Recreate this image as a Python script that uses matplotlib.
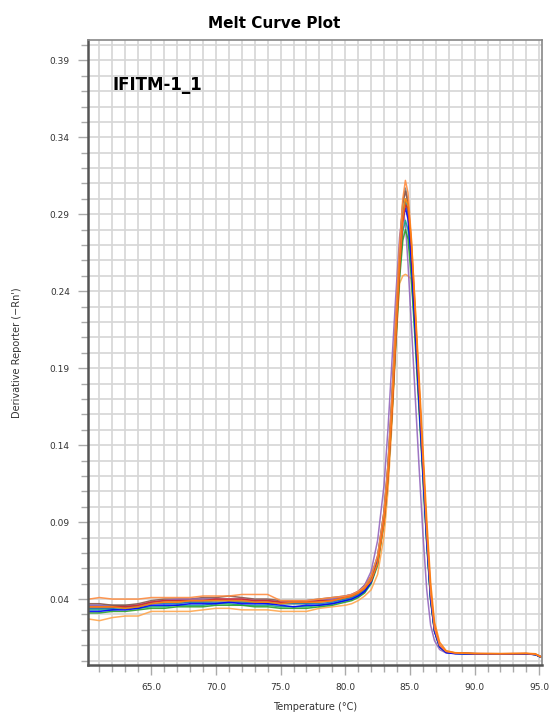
import numpy as np
import matplotlib.pyplot as plt
from matplotlib.ticker import MultipleLocator, FixedLocator

# Temperature grid for the flat part (60-80 C) and the melt part (80.5-95 C)
base_temps = [60.2, 61, 62, 63, 64, 65, 66, 67, 68, 69, 70,
              71, 72, 73, 74, 75, 76, 77, 78, 79, 80]
melt_temps = [80.5, 81, 81.5, 82, 82.5, 83, 83.3, 83.6, 83.9, 84.2, 84.45,
              84.65, 84.85, 85.1, 85.4, 85.7, 86.0, 86.3, 86.6, 86.9, 87.3,
              87.8, 88.5, 90, 92, 94, 94.7, 95.1]

# baseline readings (one list per well)
base_orange_top = [0.040, 0.041, 0.040, 0.040, 0.040, 0.041, 0.041, 0.041, 0.041, 0.042, 0.042,
                   0.042, 0.043, 0.043, 0.043, 0.039, 0.039, 0.039, 0.040, 0.041, 0.042]
base_orange_low = [0.027, 0.026, 0.028, 0.029, 0.029, 0.032, 0.032, 0.032, 0.032, 0.033, 0.034,
                   0.034, 0.033, 0.033, 0.033, 0.032, 0.032, 0.032, 0.034, 0.035, 0.036]
base_blue = [0.032, 0.032, 0.033, 0.033, 0.034, 0.036, 0.036, 0.036, 0.037, 0.037, 0.037,
             0.038, 0.037, 0.037, 0.037, 0.036, 0.035, 0.036, 0.036, 0.037, 0.039]
base_steel = [0.034, 0.034, 0.034, 0.035, 0.035, 0.037, 0.037, 0.037, 0.038, 0.038, 0.038,
              0.038, 0.038, 0.038, 0.037, 0.037, 0.037, 0.037, 0.037, 0.038, 0.040]
base_green = [0.031, 0.031, 0.032, 0.032, 0.033, 0.034, 0.034, 0.035, 0.035, 0.035, 0.036,
              0.036, 0.036, 0.035, 0.035, 0.034, 0.034, 0.034, 0.035, 0.036, 0.038]
base_teal = [0.033, 0.033, 0.033, 0.034, 0.034, 0.035, 0.035, 0.036, 0.036, 0.036, 0.037,
             0.037, 0.036, 0.036, 0.036, 0.035, 0.035, 0.035, 0.036, 0.037, 0.039]
base_red = [0.035, 0.035, 0.035, 0.035, 0.036, 0.038, 0.039, 0.039, 0.039, 0.039, 0.040,
            0.040, 0.040, 0.039, 0.039, 0.038, 0.038, 0.038, 0.039, 0.039, 0.041]
base_purple = [0.036, 0.036, 0.035, 0.035, 0.036, 0.038, 0.039, 0.040, 0.040, 0.040, 0.040,
               0.040, 0.040, 0.039, 0.039, 0.038, 0.038, 0.039, 0.039, 0.040, 0.042]
base_brown = [0.037, 0.037, 0.036, 0.036, 0.037, 0.039, 0.040, 0.040, 0.040, 0.041, 0.041,
              0.042, 0.041, 0.040, 0.040, 0.039, 0.039, 0.039, 0.040, 0.041, 0.042]
base_grey = [0.036, 0.036, 0.036, 0.036, 0.036, 0.038, 0.039, 0.039, 0.039, 0.040, 0.040,
             0.039, 0.039, 0.039, 0.039, 0.038, 0.038, 0.038, 0.039, 0.040, 0.041]
base_olive = [0.034, 0.034, 0.034, 0.035, 0.035, 0.037, 0.038, 0.038, 0.038, 0.038, 0.039,
              0.039, 0.038, 0.038, 0.038, 0.037, 0.037, 0.037, 0.038, 0.039, 0.040]
base_orange = [0.035, 0.035, 0.035, 0.034, 0.035, 0.037, 0.038, 0.038, 0.039, 0.039, 0.039,
               0.039, 0.039, 0.038, 0.038, 0.037, 0.038, 0.038, 0.038, 0.039, 0.041]

# melt readings (one list per well)
melt_orange_top = [0.043, 0.045, 0.048, 0.055, 0.068, 0.097, 0.127, 0.170, 0.222, 0.270, 0.300,
                   0.312, 0.304, 0.276, 0.230, 0.180, 0.132, 0.084, 0.044, 0.021, 0.010,
                   0.006, 0.005, 0.0046, 0.0045, 0.0047, 0.0042, 0.0026]
melt_orange_low = [0.037, 0.039, 0.042, 0.046, 0.056, 0.081, 0.110, 0.152, 0.203, 0.245, 0.250,
                   0.251, 0.250, 0.248, 0.218, 0.172, 0.126, 0.080, 0.042, 0.020, 0.009,
                   0.0055, 0.0048, 0.0045, 0.0044, 0.0045, 0.0040, 0.0025]
melt_blue = [0.040, 0.042, 0.045, 0.051, 0.064, 0.093, 0.122, 0.164, 0.213, 0.260, 0.287,
             0.294, 0.287, 0.261, 0.216, 0.169, 0.123, 0.078, 0.040, 0.019, 0.009,
             0.0052, 0.0045, 0.0043, 0.0043, 0.0044, 0.0039, 0.0024]
melt_steel = [0.041, 0.043, 0.046, 0.052, 0.066, 0.095, 0.124, 0.166, 0.216, 0.262, 0.290,
              0.298, 0.290, 0.263, 0.218, 0.171, 0.125, 0.079, 0.041, 0.020, 0.009,
              0.0055, 0.0048, 0.0045, 0.0044, 0.0045, 0.0040, 0.0025]
melt_green = [0.039, 0.041, 0.044, 0.050, 0.062, 0.090, 0.118, 0.158, 0.205, 0.248, 0.273,
              0.280, 0.274, 0.250, 0.208, 0.164, 0.120, 0.076, 0.039, 0.019, 0.009,
              0.0055, 0.0048, 0.0045, 0.0043, 0.0045, 0.0040, 0.0024]
melt_teal = [0.040, 0.042, 0.045, 0.051, 0.063, 0.091, 0.120, 0.161, 0.209, 0.253, 0.279,
             0.286, 0.280, 0.255, 0.212, 0.167, 0.122, 0.077, 0.040, 0.019, 0.009,
             0.0055, 0.0047, 0.0044, 0.0043, 0.0045, 0.0040, 0.0025]
melt_red = [0.042, 0.044, 0.047, 0.052, 0.064, 0.091, 0.119, 0.159, 0.207, 0.254, 0.285,
            0.296, 0.294, 0.270, 0.226, 0.179, 0.132, 0.085, 0.046, 0.022, 0.010,
            0.006, 0.005, 0.0046, 0.0045, 0.0046, 0.0042, 0.0028]
melt_purple = [0.043, 0.045, 0.049, 0.058, 0.078, 0.114, 0.150, 0.193, 0.236, 0.275, 0.293,
               0.284, 0.258, 0.220, 0.173, 0.127, 0.083, 0.046, 0.023, 0.013, 0.0072,
               0.005, 0.0047, 0.0045, 0.0044, 0.0045, 0.0040, 0.0025]
melt_brown = [0.043, 0.045, 0.049, 0.055, 0.068, 0.097, 0.127, 0.170, 0.220, 0.268, 0.297,
              0.305, 0.297, 0.270, 0.223, 0.175, 0.128, 0.081, 0.042, 0.020, 0.009,
              0.0055, 0.0048, 0.0045, 0.0044, 0.0045, 0.0040, 0.0025]
melt_grey = [0.042, 0.044, 0.048, 0.054, 0.067, 0.096, 0.126, 0.169, 0.219, 0.267, 0.298,
             0.307, 0.299, 0.271, 0.224, 0.176, 0.129, 0.082, 0.042, 0.020, 0.009,
             0.0055, 0.0048, 0.0045, 0.0044, 0.0045, 0.0040, 0.0025]
melt_olive = [0.041, 0.043, 0.046, 0.052, 0.065, 0.094, 0.123, 0.165, 0.215, 0.262, 0.291,
              0.300, 0.292, 0.265, 0.220, 0.173, 0.127, 0.080, 0.041, 0.020, 0.009,
              0.0055, 0.0048, 0.0045, 0.0044, 0.0045, 0.0040, 0.0025]
melt_orange = [0.042, 0.044, 0.047, 0.052, 0.063, 0.090, 0.118, 0.159, 0.209, 0.257, 0.288,
               0.300, 0.297, 0.275, 0.232, 0.186, 0.139, 0.092, 0.051, 0.025, 0.012,
               0.0065, 0.0052, 0.0047, 0.0046, 0.0048, 0.0045, 0.0026]

wells = [
    ('#ffa64d', base_orange_low, melt_orange_low),
    ('#7f7f7f', base_grey, melt_grey),
    ('#8c564b', base_brown, melt_brown),
    ('#bcbd22', base_olive, melt_olive),
    ('#9467bd', base_purple, melt_purple),
    ('#17a589', base_teal, melt_teal),
    ('#2ca02c', base_green, melt_green),
    ('#1f77b4', base_steel, melt_steel),
    ('#0000ff', base_blue, melt_blue),
    ('#d62728', base_red, melt_red),
    ('#ff8c40', base_orange_top, melt_orange_top),
    ('#ff7f0e', base_orange, melt_orange),
]

fig = plt.figure(figsize=(5.49, 7.2), dpi=100)
ax = fig.add_axes([0.160, 0.076, 0.827, 0.868])

temps = base_temps + melt_temps
for color, b, m in wells:
    ax.plot(temps, b + m, color=color, lw=1.1, alpha=0.9)

ax.set_xlim(60.1, 95.2)
ax.set_ylim(-0.003, 0.403)

ax.xaxis.set_major_locator(FixedLocator([65, 70, 75, 80, 85, 90, 95]))
ax.xaxis.set_minor_locator(MultipleLocator(1))
ax.yaxis.set_major_locator(FixedLocator([0.04, 0.09, 0.14, 0.19, 0.24, 0.29, 0.34, 0.39]))
ax.yaxis.set_minor_locator(FixedLocator(np.arange(0, 0.401, 0.01)))
ax.set_xticklabels(['65.0', '70.0', '75.0', '80.0', '85.0', '90.0', '95.0'])
ax.set_yticklabels(['0.04', '0.09', '0.14', '0.19', '0.24', '0.29', '0.34', '0.39'])

ax.grid(True, which='both', color='#d6d6d6', lw=1.2)
ax.set_axisbelow(True)
ax.tick_params(which='both', direction='out', color='#aaaaaa', labelsize=6.5,
               labelcolor='#333333')
ax.tick_params(which='major', length=7, width=1, pad=6)
ax.tick_params(which='minor', length=5, width=1)

for side in ['left', 'bottom']:
    ax.spines[side].set_color('#555555')
    ax.spines[side].set_linewidth(1.8)
for side in ['top', 'right']:
    ax.spines[side].set_color('#888888')
    ax.spines[side].set_linewidth(1.2)

ax.set_xlabel('Temperature (°C)', fontsize=7, color='#333333')
ax.set_ylabel("Derivative Reporter (\u2212Rn')", fontsize=7, color='#333333')
ax.xaxis.set_label_coords(0.5, -0.058)
ax.yaxis.set_label_coords(-0.146, 0.5)

ax.text(62.0, 0.374, 'IFITM-1_1', fontsize=12, fontweight='bold', va='center')
fig.suptitle('Melt Curve Plot', x=0.5, y=0.978, fontsize=11, fontweight='bold')

fig.savefig('out.png', dpi=100)
